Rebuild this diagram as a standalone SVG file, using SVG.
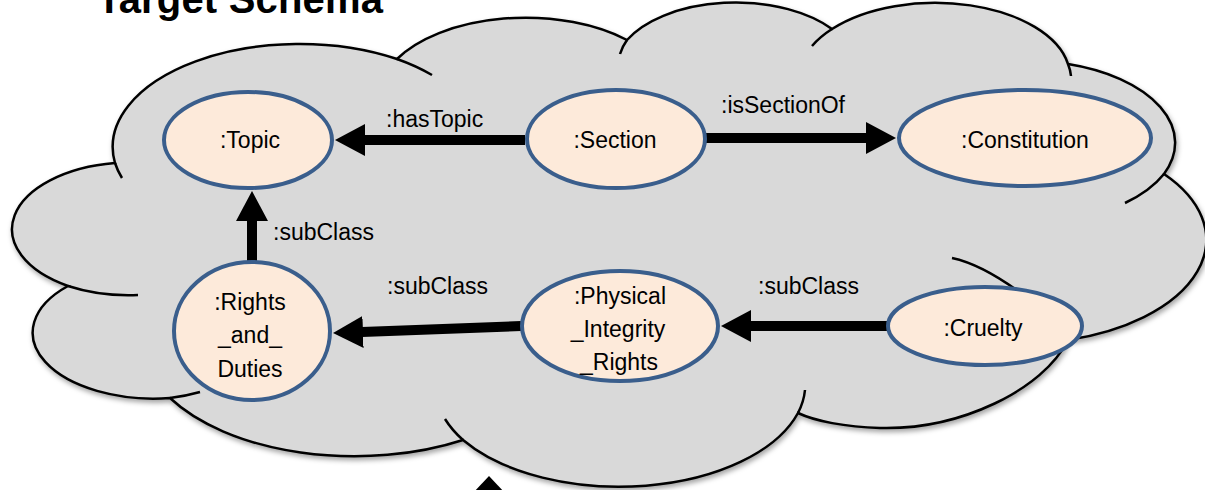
<svg xmlns="http://www.w3.org/2000/svg" width="1205" height="490" viewBox="0 0 1205 490">
  <defs>
    <filter id="cloudShadow" x="-5%" y="-5%" width="110%" height="115%">
      <feDropShadow dx="1.5" dy="3" stdDeviation="2.5" flood-color="#000" flood-opacity="0.35"/>
    </filter>
    <marker id="head" markerUnits="userSpaceOnUse" markerWidth="32" markerHeight="34" refX="1" refY="16" orient="auto">
      <path d="M0,0 L30,16 L0,32 Z" fill="#000"/>
    </marker>
  </defs>
  <style>
    .cloud { fill: #D9D9D9; stroke: #000; stroke-width: 2.5; }
    .tick { fill: none; stroke: #000; stroke-width: 2.5; }
    .node ellipse { fill: #FDEADA; stroke: #3A5E8C; stroke-width: 4; }
    text { font-family: "Liberation Sans", Arial, sans-serif; font-size: 23px; fill: #000; }
    .node text { text-anchor: middle; }
    .edge { stroke: #000; stroke-width: 10; fill: none; marker-end: url(#head); }
    .title { font-size: 40px; font-weight: bold; }
  </style>

  <!-- heading, partly above the top edge -->
  <text class="title" x="97" y="13" textLength="286">Target Schema</text>

  <!-- cloud background -->
  <g id="cloud">
    <path class="cloud" filter="url(#cloudShadow)" d="M115,163
      A187,103 0 0 1 397,59
      A148,82 0 0 1 627,40
      A121,67 0 0 1 832,29
      A135,74 0 0 1 1068,64
      A148,82 0 0 1 1164,174
      A188,104 0 0 1 1068,340
      C1043,390 960,430 880,428
      C845,427 815,421 798,413
      A187,104 0 0 1 463,440
      A214,118 0 0 1 170,398
      A121,66 0 0 1 68,286
      A120,67 0 0 1 115,163 Z"/>
    <!-- inner lobe strokes -->
    <path class="tick" d="M115,163 A187,103 0 0 0 122,178"/>
    <path class="tick" d="M397,59 A187,103 0 0 1 432,75"/>
    <path class="tick" d="M627,40 A121,67 0 0 0 620,54"/>
    <path class="tick" d="M832,29 A135,74 0 0 0 812,46"/>
    <path class="tick" d="M1068,64 A135,74 0 0 1 1071,76"/>
    <path class="tick" d="M1164,174 A148,82 0 0 1 1125,203"/>
    <path class="tick" d="M952,258 Q985,265 1030,300"/>
    <path class="tick" d="M798,413 A187,104 0 0 0 805,390"/>
    <path class="tick" d="M463,440 A187,104 0 0 1 445,419"/>
    <path class="tick" d="M170,398 A121,66 0 0 0 200,392"/>
    <path class="tick" d="M68,286 A120,67 0 0 0 138,295"/>
  </g>

  <!-- connectors -->
  <g id="connectors">
    <line class="edge" x1="525" y1="140" x2="364" y2="140"/>
    <line class="edge" x1="706" y1="138" x2="867" y2="138"/>
    <line class="edge" x1="252" y1="261" x2="252" y2="220"/>
    <line class="edge" x1="521" y1="326" x2="362" y2="332"/>
    <line class="edge" x1="887" y1="326" x2="750" y2="326"/>
    <polygon points="489,476 521,510 457,510" fill="#000"/>
    <text x="386" y="127">:hasTopic</text>
    <text x="721" y="113">:isSectionOf</text>
    <text x="273" y="240">:subClass</text>
    <text x="387" y="294">:subClass</text>
    <text x="758" y="294">:subClass</text>
  </g>

  <!-- nodes -->
  <g id="node-topic" class="node">
    <ellipse cx="248" cy="140" rx="84" ry="48"/>
    <text x="250" y="148">:Topic</text>
  </g>
  <g id="node-section" class="node">
    <ellipse cx="616" cy="139" rx="89" ry="49"/>
    <text x="615" y="148">:Section</text>
  </g>
  <g id="node-constitution" class="node">
    <ellipse cx="1025" cy="138" rx="126" ry="48"/>
    <text x="1025" y="148">:Constitution</text>
  </g>
  <g id="node-rights-and-duties" class="node">
    <ellipse cx="252" cy="331" rx="78" ry="69"/>
    <text x="250" y="310">:Rights</text>
    <text x="250" y="343">_and_</text>
    <text x="250" y="377">Duties</text>
  </g>
  <g id="node-physical-integrity-rights" class="node">
    <ellipse cx="620" cy="326" rx="98" ry="55"/>
    <text x="620" y="304">:Physical</text>
    <text x="618" y="337">_Integrity</text>
    <text x="619" y="370">_Rights</text>
  </g>
  <g id="node-cruelty" class="node">
    <ellipse cx="985" cy="326" rx="97" ry="39"/>
    <text x="983" y="336">:Cruelty</text>
  </g>
</svg>
